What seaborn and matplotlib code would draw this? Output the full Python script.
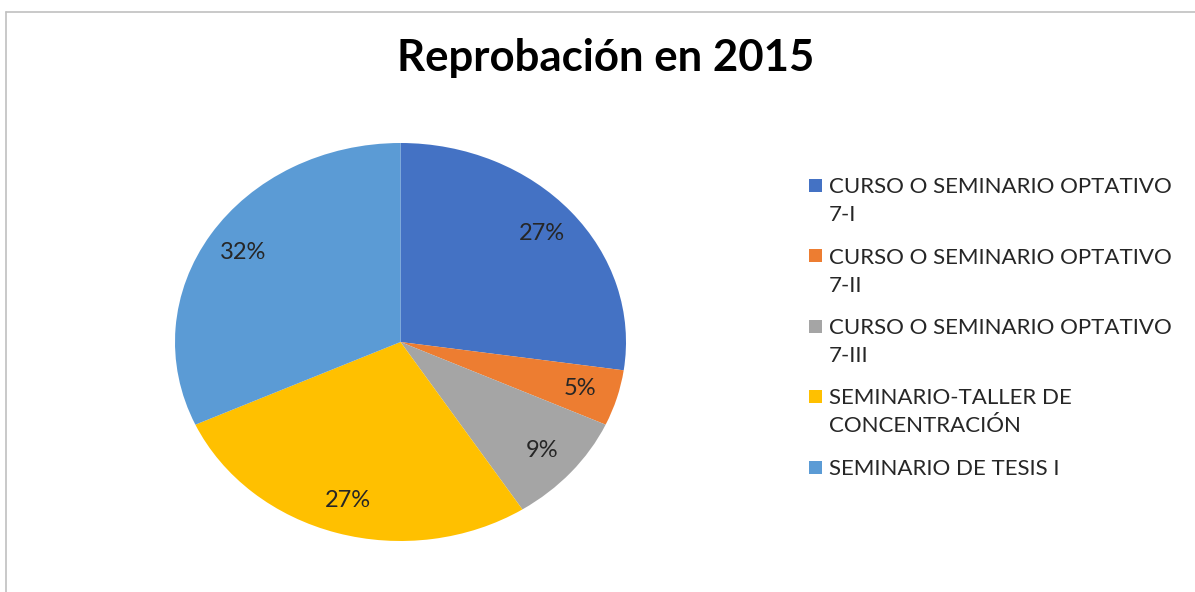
import matplotlib
matplotlib.use("Agg")
import matplotlib.pyplot as plt
import seaborn as sns
from matplotlib.patches import Rectangle
from matplotlib.lines import Line2D

sns.set_theme(style="white")
plt.rcParams['font.family'] = ['Lato', 'DejaVu Sans']

categories = [
    "CURSO O SEMINARIO OPTATIVO\n7-I",
    "CURSO O SEMINARIO OPTATIVO\n7-II",
    "CURSO O SEMINARIO OPTATIVO\n7-III",
    "SEMINARIO-TALLER DE\nCONCENTRACIÓN",
    "SEMINARIO DE TESIS I",
]
values = [6, 1, 2, 6, 7]
colors = ["#4472C4", "#ED7D31", "#A5A5A5", "#FFC000", "#5B9BD5"]
title = "Reprobación en 2015"

W, H = 1195, 592
fig = plt.figure(figsize=(W / 100, H / 100), dpi=100)
fig.patch.set_facecolor("white")

# chart border (top and left visible)
fig.add_artist(Line2D([6 / W, 1.0], [1 - 12 / H, 1 - 12 / H], color="#C0C0C0", lw=1.2, transform=fig.transFigure))
fig.add_artist(Line2D([6 / W, 6 / W], [1 - 12 / H, 0], color="#C0C0C0", lw=1.2, transform=fig.transFigure))

ax = fig.add_axes([175 / W, (H - 541) / H, 451 / W, 398 / H])
wedges, texts, autotexts = ax.pie(
    values, colors=colors, startangle=90, counterclock=False,
    autopct=lambda p: f"{p:.0f}%", pctdistance=0.83,
    wedgeprops=dict(linewidth=0, edgecolor="none"),
    textprops=dict(fontsize=17, color="#262626"),
)
ax.set_aspect("auto")
ax.set_xlim(-1, 1)
ax.set_ylim(-1, 1)
ax.axis("off")

fig.text(606 / W, 1 - 58 / H, title, ha="center", va="center",
         fontsize=31.5, fontweight="bold", color="black")

# legend: square aligned with first line, wrapped text below
y0, step, line_gap = 185, 70.5, 28
for i, (lab, c) in enumerate(zip(categories, colors)):
    yc = y0 + i * step
    fig.add_artist(Rectangle((809 / W, 1 - (yc + 6.5) / H), 13 / W, 13 / H,
                             facecolor=c, edgecolor="none", transform=fig.transFigure))
    for j, line in enumerate(lab.split("\n")):
        fig.text(829 / W, 1 - (yc + j * line_gap) / H, line, ha="left", va="center_baseline",
                 fontsize=16, color="#262626")

fig.savefig("out.png", dpi=100)
